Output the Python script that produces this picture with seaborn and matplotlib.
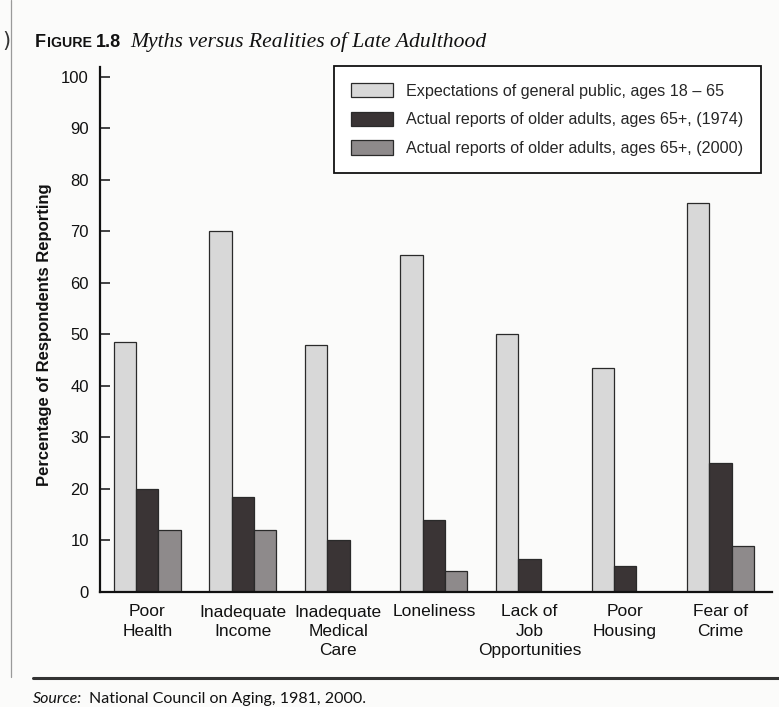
import numpy as np
import pandas as pd
import matplotlib
matplotlib.use("Agg")
import matplotlib.pyplot as plt
import seaborn as sns
from matplotlib.patches import Patch
from matplotlib.lines import Line2D

# ---- data ----
categories = ["Poor\nHealth", "Inadequate\nIncome", "Inadequate\nMedical\nCare",
              "Loneliness", "Lack of\nJob\nOpportunities", "Poor\nHousing",
              "Fear of\nCrime"]
series_names = ["Expectations of general public, ages 18 \u2013 65",
                "Actual reports of older adults, ages 65+, (1974)",
                "Actual reports of older adults, ages 65+, (2000)"]
expectations = [48.5, 70, 48, 65.5, 50, 43.5, 75.5]
actual_1974 = [20, 18.5, 10, 14, 6.5, 5, 25]
actual_2000 = [12, 12, np.nan, 4, np.nan, np.nan, 9]
y_ticks = [0, 10, 20, 30, 40, 50, 60, 70, 80, 90, 100]

rows = []
for name, vals in zip(series_names, [expectations, actual_1974, actual_2000]):
    for c, v in zip(categories, vals):
        rows.append({"category": c, "series": name, "value": v})
df = pd.DataFrame(rows).dropna()

# ---- style ----
sns.set_theme(style="ticks")
SANS = ["Liberation Sans", "DejaVu Sans"]
plt.rcParams["font.family"] = SANS

W, H = 779, 707
fig = plt.figure(figsize=(W / 100, H / 100), dpi=100)
bg = "#fbfbfa"
fig.patch.set_facecolor(bg)

ax_left, ax_right, ax_top, ax_bottom = 100, 771.7, 67, 592
ax = fig.add_axes([ax_left / W, 1 - ax_bottom / H,
                   (ax_right - ax_left) / W, (ax_bottom - ax_top) / H])
ax.set_facecolor("none")

palette = ["#d8d8d8", "#3a3435", "#8e8a8b"]
sns.barplot(data=df, x="category", y="value", hue="series",
            order=categories, hue_order=series_names, palette=palette,
            width=0.7, edgecolor="#2a2a2a", linewidth=0.9,
            saturation=1, legend=False, ax=ax, errorbar=None)

ax.set_xlim(-0.495, 6.535)
ax.set_ylim(0, 101.9)
ax.set_yticks(y_ticks)
ax.set_yticklabels([str(t) for t in y_ticks])
ax.set_xlabel("")
ax.set_ylabel("")
for s in ["top", "right"]:
    ax.spines[s].set_visible(False)
for s in ["left", "bottom"]:
    ax.spines[s].set_linewidth(1.6)
    ax.spines[s].set_color("#111111")
ax.tick_params(axis="y", direction="in", length=7, width=1.1, pad=8,
               labelsize=12, colors="#111111")
ax.tick_params(axis="x", length=0, pad=9, labelsize=12.5, colors="#111111")
for lab in ax.get_xticklabels():
    lab.set_linespacing(1.35)

# ---- legend ----
handles = [Patch(facecolor=c, edgecolor="#2a2a2a", linewidth=0.9) for c in palette]
leg = fig.legend(handles, series_names, loc="upper left",
                 bbox_to_anchor=(334 / W, 1 - 66 / H),
                 bbox_transform=fig.transFigure, borderaxespad=0,
                 frameon=True, fancybox=False, framealpha=1,
                 edgecolor="#111111", facecolor="white",
                 fontsize=11.6, handlelength=2.6, handleheight=1.0,
                 handletextpad=0.85, labelspacing=0.8, borderpad=1.05)
leg.get_frame().set_linewidth(1.3)

# ---- y label ----
fig.text(45 / W, 1 - 335 / H, "Percentage of Respondents Reporting",
         rotation=90, ha="center", va="center", fontsize=12,
         fontweight="bold", family=SANS, color="#111111")

# ---- title (small caps + italic serif) ----
fig.canvas.draw()
r = fig.canvas.get_renderer()
base_y = 1 - 47 / H


def put(x, s, **kw):
    t = fig.text(x / W, base_y, s, va="baseline", ha="left", color="#111111", **kw)
    bb = t.get_window_extent(r)
    return bb.x1


fig.text(2 / W, base_y, ")", va="baseline", ha="left", fontsize=15,
         color="#333333", family=["DejaVu Sans"])
sc = dict(family=SANS, fontweight="bold")
x = put(35, "F", fontsize=13, **sc)
x = put(x + 0.5, "IGURE", fontsize=10.2, **sc)
x = put(x + 4, "1.8", fontsize=13, **sc)
put(x + 10, "Myths versus Realities of Late Adulthood", fontsize=15.6,
    style="italic", family=["Liberation Serif", "DejaVu Serif"])

# ---- source line ----
fig.add_artist(Line2D([33 / W, 1.0], [1 - 678 / H, 1 - 678 / H],
                      transform=fig.transFigure, color="#333333", lw=2.2))
fig.add_artist(Line2D([11 / W, 11 / W], [1.0, 1 - 677 / H],
                      transform=fig.transFigure, color="#9a9a9a", lw=0.9))
src_y = 1 - 703 / H
t1 = fig.text(33 / W, src_y, "Source:", va="baseline", ha="left", fontsize=11.5,
              style="italic", family=["Lato", "DejaVu Sans"], color="#111111")
bb = t1.get_window_extent(r)
fig.text((bb.x1 + 7) / W, src_y, "National Council on Aging, 1981, 2000.",
         va="baseline", ha="left", fontsize=11.5,
         family=["Lato", "DejaVu Sans"], color="#111111")

fig.savefig("out.png", dpi=100, facecolor=fig.get_facecolor())
